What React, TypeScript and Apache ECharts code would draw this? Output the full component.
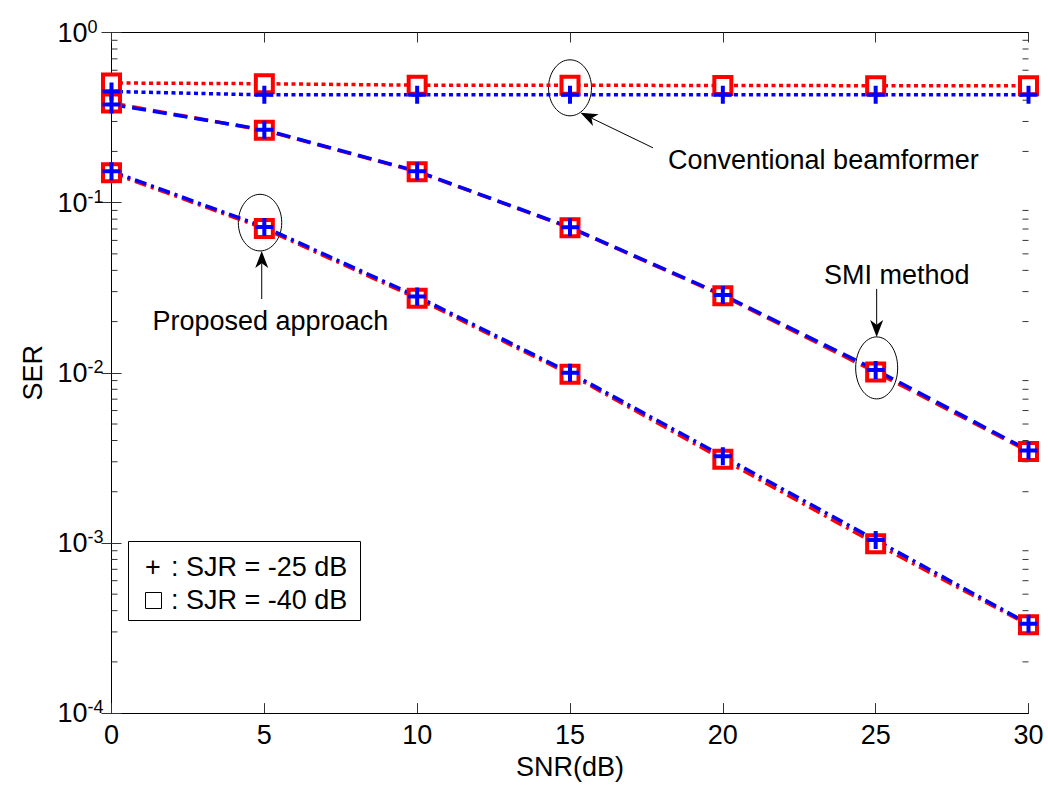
import React, { useEffect, useRef } from "react";
import * as echarts from "echarts";

// SNR sweep (dB)
const snr = [0, 5, 10, 15, 20, 25, 30];

// Symbol error rate per receiver, for the two jammer levels
const convSjr40 = [0.505, 0.5, 0.49, 0.49, 0.488, 0.487, 0.487];
const convSjr25 = [0.45, 0.43, 0.43, 0.43, 0.43, 0.43, 0.43];
const smiSjr40 = [0.385, 0.266, 0.152, 0.0712, 0.0284, 0.0101, 0.00345];
const smiSjr25 = [0.378, 0.268, 0.153, 0.0716, 0.0287, 0.0104, 0.0035];
const propSjr40 = [0.15, 0.0705, 0.0274, 0.0098, 0.0031, 0.00099, 0.00033];
const propSjr25 = [0.153, 0.0719, 0.0281, 0.01, 0.00323, 0.00104, 0.000335];

// Axis ranges
const xTicks = [0, 5, 10, 15, 20, 25, 30];
const yDecades = [-4, -3, -2, -1, 0];

const FONT = "'Liberation Sans', Arial, Helvetica, sans-serif";
const RED = "#ff0000";
const BLUE = "#0000ff";
const PLUS = "path://M7,0H11V7H18V11H11V18H7V11H0V7H7Z";

// minor log ticks 2..9 in every decade
const minorTicks: number[] = [];
for (let i = 0; i < yDecades.length - 1; i++) {
  for (let m = 2; m <= 9; m++) minorTicks.push(m * Math.pow(10, yDecades[i]));
}

const lineStyles: Record<string, number[]> = {
  dotted: [4, 3.5],
  dashed: [14, 7],
  dashdot: [12, 5, 3, 5],
};

function curve(name: string, values: number[], color: string, dash: number[], square: boolean) {
  return {
    name,
    type: "line",
    xAxisIndex: 0,
    yAxisIndex: 0,
    data: snr.map((x, i) => [x, values[i]]),
    showAllSymbol: true,
    symbol: square ? "rect" : PLUS,
    symbolSize: square ? 17 : 18,
    lineStyle: { color, width: 3.5, type: dash, cap: "butt" },
    itemStyle: square
      ? { color: "#fff", borderColor: color, borderWidth: 4 }
      : { color, borderWidth: 0 },
    emphasis: { disabled: true },
    silent: true,
  };
}

function arrow(tail: number[], tip: number[]) {
  const dx = tip[0] - tail[0];
  const dy = tip[1] - tail[1];
  const len = Math.hypot(dx, dy);
  const ux = dx / len;
  const uy = dy / len;
  const px = -uy;
  const py = ux;
  const headLen = 17;
  const halfW = 6.5;
  const bx = tip[0] - ux * headLen;
  const by = tip[1] - uy * headLen;
  const nx = tip[0] - ux * headLen * 0.72;
  const ny = tip[1] - uy * headLen * 0.72;
  return [
    {
      type: "line",
      shape: { x1: tail[0], y1: tail[1], x2: nx, y2: ny },
      style: { stroke: "#000", lineWidth: 1 },
      silent: true,
    },
    {
      type: "polygon",
      shape: {
        points: [
          [tip[0], tip[1]],
          [bx + px * halfW, by + py * halfW],
          [nx, ny],
          [bx - px * halfW, by - py * halfW],
        ],
      },
      style: { fill: "#000" },
      silent: true,
    },
  ];
}

function ellipse(cx: number, cy: number, rx: number, ry: number) {
  return {
    type: "ellipse",
    shape: { cx, cy, rx, ry },
    style: { fill: "none", stroke: "#000", lineWidth: 1 },
    silent: true,
  };
}

function label(text: string, x: number, y: number, align: string) {
  return {
    type: "text",
    x,
    y,
    style: {
      text,
      font: `27px ${FONT}`,
      fill: "#000",
      align,
      verticalAlign: "middle",
    },
    silent: true,
  };
}

export default function App() {
  const ref = useRef<HTMLDivElement>(null);

  useEffect(() => {
    if (!ref.current) return;
    const chart = echarts.init(ref.current, null, { renderer: "svg" });

    const tickStyle = { color: "#333", width: 1 };
    const option: any = {
      animation: false,
      backgroundColor: "#fff",
      textStyle: { fontFamily: FONT },
      grid: { left: 111.5, top: 32.5, width: 917, height: 683 },
      xAxis: [
        {
          type: "value",
          min: xTicks[0],
          max: xTicks[xTicks.length - 1],
          interval: 5,
          position: "bottom",
          name: "SNR(dB)",
          nameLocation: "middle",
          nameGap: 33,
          nameTextStyle: { fontSize: 27, color: "#000", fontFamily: FONT, verticalAlign: "top" },
          axisLine: { show: true, lineStyle: { color: "#000", width: 1 } },
          axisTick: { show: true, inside: true, length: 10, lineStyle: tickStyle },
          axisLabel: { fontSize: 27, color: "#000", fontFamily: FONT, margin: 8 },
          splitLine: { show: false },
        },
        {
          type: "value",
          min: xTicks[0],
          max: xTicks[xTicks.length - 1],
          interval: 5,
          position: "top",
          axisLine: { show: true, lineStyle: { color: "#000", width: 1 } },
          axisTick: { show: true, inside: true, length: 10, lineStyle: tickStyle },
          axisLabel: { show: false },
          splitLine: { show: false },
        },
      ],
      yAxis: [
        {
          type: "log",
          logBase: 10,
          min: Math.pow(10, yDecades[0]),
          max: Math.pow(10, yDecades[yDecades.length - 1]),
          position: "left",
          name: "SER",
          nameLocation: "middle",
          nameGap: 64,
          nameRotate: 90,
          nameTextStyle: { fontSize: 27, color: "#000", fontFamily: FONT },
          axisLine: { show: true, lineStyle: { color: "#000", width: 1 } },
          axisTick: { show: true, inside: true, length: 10, lineStyle: tickStyle },
          axisLabel: {
            align: "left",
            margin: 54,
            formatter: (v: number) => `{b|10}{e|${Math.round(Math.log10(v))}}`,
            rich: {
              b: { fontSize: 27, color: "#000", fontFamily: FONT, lineHeight: 30 },
              e: { fontSize: 18, color: "#000", fontFamily: FONT, lineHeight: 14, verticalAlign: "top" },
            },
          },
          splitLine: { show: false },
        },
        {
          type: "log",
          logBase: 10,
          min: Math.pow(10, yDecades[0]),
          max: Math.pow(10, yDecades[yDecades.length - 1]),
          position: "right",
          axisLine: { show: true, lineStyle: { color: "#000", width: 1 } },
          axisTick: { show: true, inside: true, length: 10, lineStyle: tickStyle },
          axisLabel: { show: false },
          splitLine: { show: false },
        },
      ],
      series: [
        {
          type: "custom",
          name: "minor ticks",
          xAxisIndex: 0,
          yAxisIndex: 0,
          silent: true,
          clip: false,
          data: minorTicks.map((v) => [xTicks[0], v]),
          renderItem: (_params: any, api: any) => {
            const v = api.value(1);
            const l = api.coord([xTicks[0], v]);
            const r = api.coord([xTicks[xTicks.length - 1], v]);
            return {
              type: "group",
              children: [
                {
                  type: "line",
                  shape: { x1: l[0], y1: l[1], x2: l[0] + 6, y2: l[1] },
                  style: { stroke: "#333", lineWidth: 1 },
                },
                {
                  type: "line",
                  shape: { x1: r[0] - 6, y1: r[1], x2: r[0], y2: r[1] },
                  style: { stroke: "#333", lineWidth: 1 },
                },
              ],
            };
          },
        },
        curve("Conventional, SJR = -40 dB", convSjr40, RED, lineStyles.dotted, true),
        curve("SMI, SJR = -40 dB", smiSjr40, RED, lineStyles.dashed, true),
        curve("Proposed, SJR = -40 dB", propSjr40, RED, lineStyles.dashdot, true),
        curve("Conventional, SJR = -25 dB", convSjr25, BLUE, lineStyles.dotted, false),
        curve("SMI, SJR = -25 dB", smiSjr25, BLUE, lineStyles.dashed, false),
        curve("Proposed, SJR = -25 dB", propSjr25, BLUE, lineStyles.dashdot, false),
      ],
    };
    chart.setOption(option);

    // annotations anchored to the data points they point at
    const px = (x: number, y: number) =>
      chart.convertToPixel({ xAxisIndex: 0, yAxisIndex: 0 }, [x, y]) as number[];
    const conv = px(snr[3], convSjr40[3]);
    const smi = px(snr[5], smiSjr25[5]);
    const prop = px(snr[1], propSjr25[1]);

    const graphic: any[] = [
      ellipse(conv[0], conv[1] + 2.6, 21.5, 28),
      ...arrow([conv[0] + 83, conv[1] + 62.6], [conv[0] + 10.5, conv[1] + 27.6]),
      label("Conventional beamformer", conv[0] + 98, conv[1] + 74.6, "left"),

      ellipse(smi[0] + 1, smi[1] - 2, 21, 31),
      ...arrow([smi[0] + 1, smi[1] - 81], [smi[0] + 1, smi[1] - 33]),
      label("SMI method", smi[0] + 21, smi[1] - 95, "center"),

      ellipse(prop[0] - 4.3, prop[1] - 4.4, 21.7, 28.3),
      ...arrow([prop[0] - 2.6, prop[1] + 72], [prop[0] - 2.6, prop[1] + 24]),
      label("Proposed approach", prop[0] + 6, prop[1] + 94, "center"),

      // marker key
      {
        type: "rect",
        shape: { x: 128.5, y: 541.5, width: 232, height: 79 },
        style: { fill: "#fff", stroke: "#000", lineWidth: 1 },
        silent: true,
      },
      label("+", 145, 566.5, "left"),
      label(": SJR = -25 dB", 171, 566.5, "left"),
      {
        type: "rect",
        shape: { x: 145.5, y: 592.5, width: 16, height: 16 },
        style: { fill: "#fff", stroke: "#000", lineWidth: 1 },
        silent: true,
      },
      label(": SJR = -40 dB", 171, 600, "left"),
    ];
    chart.setOption({ graphic });

    return () => chart.dispose();
  }, []);

  return (
    <div
      ref={ref}
      style={{ position: "absolute", left: 0, top: 0, width: 1048, height: 785, background: "#fff" }}
    />
  );
}
